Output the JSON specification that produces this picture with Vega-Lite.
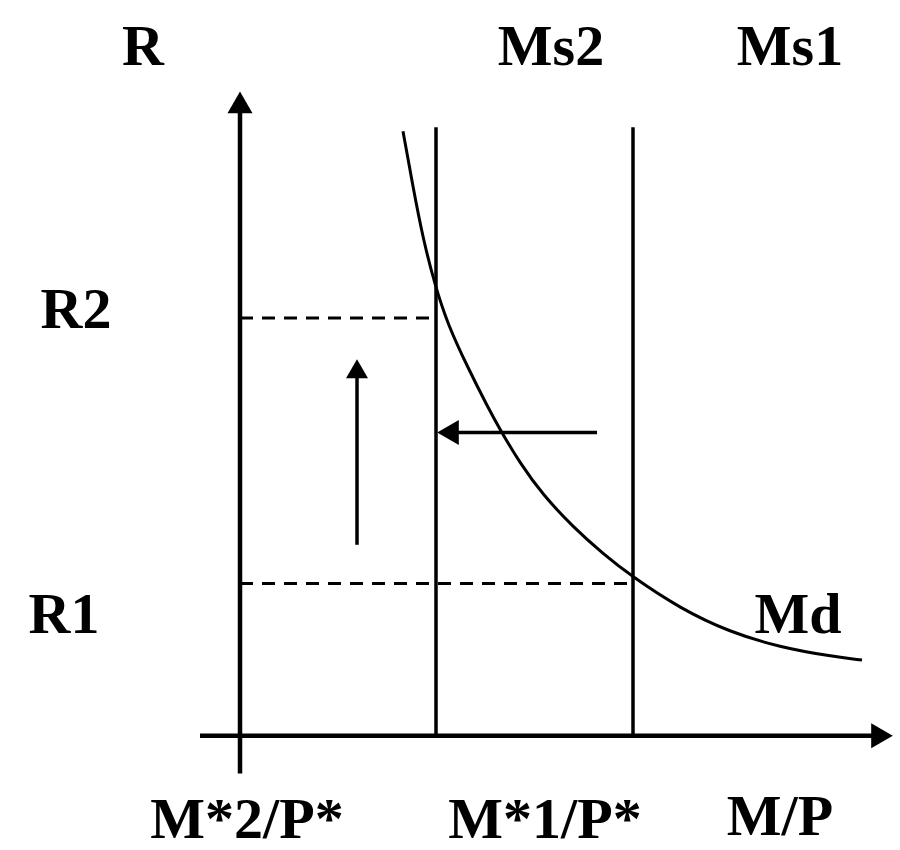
{
  "$schema": "https://vega.github.io/schema/vega-lite/v6.json",
  "width": 900,
  "height": 850,
  "autosize": {"type": "fit", "contains": "padding"},
  "padding": 0,
  "background": "white",
  "config": {"view": {"stroke": null}},
  "datasets": {
    "segs": [
      {"id": "yaxis", "kind": "axis", "o": 1, "x": 0, "y": -38},
      {"id": "yaxis", "kind": "axis", "o": 2, "x": 0, "y": 630},
      {"id": "xaxis", "kind": "axis", "o": 1, "x": -40, "y": 0},
      {"id": "xaxis", "kind": "axis", "o": 2, "x": 640, "y": 0},
      {"id": "Ms2", "kind": "supply", "o": 1, "x": 196, "y": 0},
      {"id": "Ms2", "kind": "supply", "o": 2, "x": 196, "y": 612},
      {"id": "Ms1", "kind": "supply", "o": 1, "x": 393, "y": 0},
      {"id": "Ms1", "kind": "supply", "o": 2, "x": 393, "y": 612},
      {"id": "R2", "kind": "dash", "o": 1, "x": 0, "y": 420},
      {"id": "R2", "kind": "dash", "o": 2, "x": 196, "y": 420},
      {"id": "R1", "kind": "dash", "o": 1, "x": 0, "y": 153},
      {"id": "R1", "kind": "dash", "o": 2, "x": 393, "y": 153},
      {"id": "up", "kind": "arrow", "o": 1, "x": 117, "y": 192},
      {"id": "up", "kind": "arrow", "o": 2, "x": 117, "y": 372},
      {"id": "left", "kind": "arrow", "o": 1, "x": 357, "y": 305},
      {"id": "left", "kind": "arrow", "o": 2, "x": 205, "y": 305}
    ],
    "curve": [
      {"x": 163, "y": 608},
      {"x": 173, "y": 552},
      {"x": 183, "y": 500},
      {"x": 195, "y": 453},
      {"x": 208, "y": 413},
      {"x": 227, "y": 372},
      {"x": 248, "y": 330},
      {"x": 260, "y": 308},
      {"x": 280, "y": 274},
      {"x": 303, "y": 242},
      {"x": 333, "y": 210},
      {"x": 363, "y": 183},
      {"x": 392, "y": 160},
      {"x": 440, "y": 128},
      {"x": 490, "y": 104},
      {"x": 540, "y": 89},
      {"x": 590, "y": 80},
      {"x": 622, "y": 76}
    ],
    "heads": [
      {"x": 0, "y": 637, "shape": "triangle-up", "s": 625},
      {"x": 642, "y": 0, "shape": "triangle-right", "s": 625},
      {"x": 117, "y": 369, "shape": "triangle-up", "s": 484},
      {"x": 208, "y": 305, "shape": "triangle-left", "s": 625}
    ],
    "labels": [
      {"t": "R", "x": -97, "y": 675},
      {"t": "Ms2", "x": 311, "y": 675},
      {"t": "Ms1", "x": 550, "y": 675},
      {"t": "R2", "x": -164, "y": 410},
      {"t": "R1", "x": -176, "y": 103},
      {"t": "Md", "x": 558, "y": 103},
      {"t": "M*2/P*", "x": 7, "y": -103},
      {"t": "M*1/P*", "x": 305, "y": -103},
      {"t": "M/P", "x": 540, "y": -100}
    ]
  },
  "layer": [
    {
      "data": {"name": "segs"},
      "transform": [{"filter": "datum.kind === 'axis'"}],
      "mark": {"type": "line", "color": "black", "strokeWidth": 4.5},
      "encoding": {
        "x": {"field": "x", "type": "quantitative", "scale": {"domain": [-240, 660], "zero": false, "nice": false}, "axis": null},
        "y": {"field": "y", "type": "quantitative", "scale": {"domain": [-110, 740], "zero": false, "nice": false}, "axis": null},
        "detail": {"field": "id"},
        "order": {"field": "o"}
      }
    },
    {
      "data": {"name": "segs"},
      "transform": [{"filter": "datum.kind === 'supply' || datum.kind === 'arrow'"}],
      "mark": {"type": "line", "color": "black", "strokeWidth": 3.5},
      "encoding": {
        "x": {"field": "x", "type": "quantitative"},
        "y": {"field": "y", "type": "quantitative"},
        "detail": {"field": "id"},
        "order": {"field": "o"}
      }
    },
    {
      "data": {"name": "segs"},
      "transform": [{"filter": "datum.kind === 'dash'"}],
      "mark": {"type": "line", "color": "black", "strokeWidth": 3, "strokeDash": [13, 9]},
      "encoding": {
        "x": {"field": "x", "type": "quantitative"},
        "y": {"field": "y", "type": "quantitative"},
        "detail": {"field": "id"},
        "order": {"field": "o"}
      }
    },
    {
      "data": {"name": "curve"},
      "mark": {"type": "line", "color": "black", "strokeWidth": 3, "interpolate": "basis"},
      "encoding": {
        "x": {"field": "x", "type": "quantitative"},
        "y": {"field": "y", "type": "quantitative"}
      }
    },
    {
      "data": {"name": "heads"},
      "mark": {"type": "point", "filled": true, "color": "black", "opacity": 1},
      "encoding": {
        "x": {"field": "x", "type": "quantitative"},
        "y": {"field": "y", "type": "quantitative"},
        "shape": {"field": "shape", "type": "nominal", "scale": null},
        "size": {"field": "s", "type": "quantitative", "scale": null}
      }
    },
    {
      "data": {"name": "labels"},
      "mark": {"type": "text", "font": "Liberation Serif", "fontSize": 58, "fontWeight": "bold", "align": "center", "baseline": "alphabetic", "color": "black"},
      "encoding": {
        "x": {"field": "x", "type": "quantitative"},
        "y": {"field": "y", "type": "quantitative"},
        "text": {"field": "t"}
      }
    }
  ]
}
